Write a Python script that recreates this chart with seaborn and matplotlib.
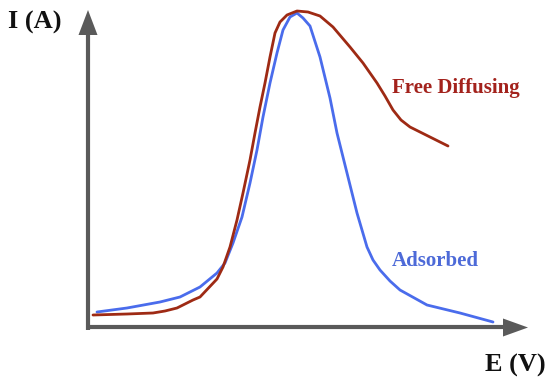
import matplotlib
matplotlib.use("Agg")
import matplotlib.pyplot as plt
import seaborn as sns
import pandas as pd

# Free diffusing voltammogram (E, I in arbitrary units)
free_E = [5, 39, 65, 77, 89, 105, 112, 129, 135, 142, 149, 155, 162, 167, 172, 177,
          182, 187, 192, 199, 209, 220, 232, 245, 262, 275, 289, 297, 305, 313, 322,
          342, 360]
free_I = [12, 13, 14, 16, 19, 27, 30, 48, 60, 80, 107, 134, 167, 194, 220, 244,
          270, 294, 305, 312, 316, 315, 311, 300, 280, 264, 244, 231, 217, 207, 200,
          190, 181]

# Adsorbed voltammogram
ads_E = [9, 39, 72, 92, 112, 129, 137, 145, 154, 162, 169, 175, 182, 189, 195, 202,
         209, 215, 222, 232, 242, 249, 259, 269, 279, 285, 292, 302, 312, 339, 372, 405]
ads_I = [15, 19, 25, 30, 40, 54, 64, 84, 110, 144, 177, 210, 244, 274, 297, 310,
         314, 309, 301, 270, 229, 194, 154, 114, 80, 67, 57, 46, 37, 22, 14, 5]

labels = {"free": "Free Diffusing", "ads": "Adsorbed"}
axis_labels = {"y": "I (A)", "x": "E (V)"}

red = "#9e2a14"
blue = "#4a6cec"
gray = "#5a5a5a"

df_free = pd.DataFrame({"E": free_E, "I": free_I})
df_ads = pd.DataFrame({"E": ads_E, "I": ads_I})

sns.set_style("white")
fig = plt.figure(figsize=(5.5, 3.86), dpi=100)
ax = fig.add_axes([0, 0, 1, 1])
ax.set_xlim(-88, 462)
ax.set_ylim(-59, 327)

# axes with arrows
ax.plot([0, 0], [-3, 294], color=gray, lw=3, solid_capstyle="butt", zorder=1)
ax.fill([-9.5, 9.5, 0], [292, 292, 317], color=gray, lw=0, zorder=1)
ax.plot([-2, 417], [0, 0], color=gray, lw=3, solid_capstyle="butt", zorder=1)
ax.fill([415, 415, 440], [8.5, -9.5, -0.5], color=gray, lw=0, zorder=1)

sns.lineplot(data=df_ads, x="E", y="I", sort=False, color=blue, lw=2.0, ax=ax, zorder=3)
sns.lineplot(data=df_free, x="E", y="I", sort=False, color=red, lw=2.0, ax=ax, zorder=4)
for ln in ax.lines:
    ln.set_solid_joinstyle("round")
ax.axis("off")

serif = ["Liberation Serif", "DejaVu Serif"]
ax.text(-53, 305, axis_labels["y"], fontsize=19, fontweight="bold", family=serif,
        ha="center", va="center", color="#111111")
ax.text(427, -38, axis_labels["x"], fontsize=19, fontweight="bold", family=serif,
        ha="center", va="center", color="#111111")
ax.text(304, 239, labels["free"], fontsize=15, fontweight="bold", family=serif,
        ha="left", va="center", color="#a3221c")
ax.text(304, 66, labels["ads"], fontsize=15, fontweight="bold", family=serif,
        ha="left", va="center", color="#4d6ad8")

fig.savefig("out.png", dpi=100)
